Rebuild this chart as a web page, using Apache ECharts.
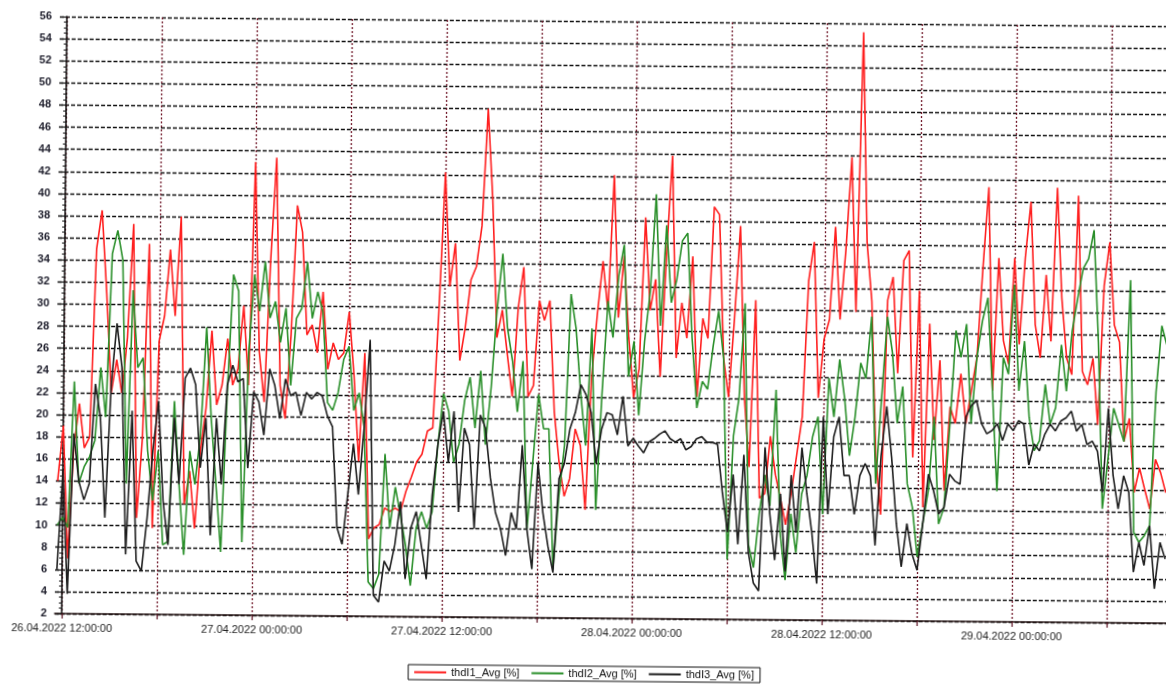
<!DOCTYPE html>
<html>
<head>
<meta charset="utf-8">
<script src="https://cdn.jsdelivr.net/npm/echarts@6/dist/echarts.min.js"></script>
<style>
  html, body { margin: 0; padding: 0; background: #ffffff; overflow: hidden; }
  #chart { width: 1180px; height: 684px; transform: rotate(0.5deg); transform-origin: 0 0; }
</style>
</head>
<body>
<div id="chart"></div>
<script>
// Time base: hours relative to 26.04.2022 12:00:00, one sample every 20 minutes
const sampleStartHour = -1 / 3;
const sampleStepHours = 1 / 3;

// Total harmonic distortion of current per phase, average values [%]
const thdI1 = [
  14, 19, 7, 17, 21, 17, 18, 35, 38.5, 31,
  22, 25, 22, 27, 37.3, 10.7, 18, 35.5, 9.8, 26.7,
  29, 35, 29, 38, 12, 15, 9.8, 16.8, 20.7, 27.7,
  21, 22.8, 27, 22.8, 24.3, 30, 22.8, 43, 25.8, 21.3,
  34, 43.4, 22.8, 19.8, 27.4, 39.1, 36.7, 27.4, 28.3, 25.8,
  31.3, 24.3,
  26.7, 25.2, 25.8, 29.5, 23.7, 16, 25.8, 9, 10, 10.3,
  11.8, 11.5, 11.8, 11.5, 13.3, 14.6, 16, 16.7, 18.8, 19.1,
  30, 42.2, 31.9, 35.8, 25.2, 28.2, 32.5, 33.7, 37.4, 48,
  39.8, 27.3, 29.8, 25.8, 22, 30, 33.7, 22, 23, 30.7,
  28.9, 30.7, 20.6, 16, 13, 14.6, 19.1, 17.6, 11.8, 23.7,
  29.5, 34.3, 29.8,
  42.1, 29.2, 34.8, 27.4, 22, 24.6, 38.3, 29.9, 32.7, 23.9,
  34.8, 43.9, 25.6, 30.6, 27.4, 34.8, 22.1, 29.2, 27.4, 39.3,
  38.6, 25.6, 22.1, 29.2, 37.6, 22.1, 15.8, 30.9, 13, 13.4,
  18.6, 15.1, 13, 10.6, 13.4, 16.9, 20.4, 32.7, 36.2, 22.1,
  27.4, 29.2, 37.6, 29.2, 35.5, 43.9, 29.9, 55.2, 36.2, 30.9,
  16.9, 11.6,
  31, 33.1, 24.4, 34.6, 35.5, 16.8, 31.9, 12.3, 28.9, 18.4,
  25.6, 13.8, 21.4, 19.9, 24.4, 19.9, 22.9, 25.9, 34, 41.3,
  22.9, 34.9, 27.4, 25.3, 34.9, 27.1, 34.9, 40, 28.9, 25.9,
  33.4, 27.4, 41.3, 31.3, 25.9, 24.4, 40.6, 24.7, 23.5, 25.9,
  19.9, 32.5, 36.4, 28.9, 27.4, 18.4, 20.5, 13.8, 16, 14.1,
  12.3, 16.8, 15.6, 13.8
];

const thdI2 = [
  10, 10.7, 9.8, 23, 13.8, 15.3, 16.2, 17.7, 24.3, 19.8,
  34.6, 36.7, 34, 13.8, 31.3, 24.3, 25.2, 16.8, 12.3, 16.8,
  8.3, 8.6, 21.3, 13.8, 7.4, 16.8, 13.8, 18.3, 28, 19.8,
  13.8, 7.7, 22.2, 32.8, 31.3, 8.6, 25.8, 32.8, 29.5, 34,
  28.9, 30.4, 26.7, 29.8, 22.8, 28.9, 29.8, 34, 28.9, 31.3,
  29.5, 21.3,
  20.6, 22.2, 25.2, 26.4, 20.6, 22.2, 19.1, 5.1, 4.5, 5.8,
  16.7, 10, 13.7, 11.2, 8.5, 4.8, 10, 11.5, 10, 11.5,
  17.6, 22.2, 20.6, 16, 17.6, 21.6, 23.7, 19.1, 24.3, 17.6,
  22.8, 29.8, 34.9, 28.2, 25.2, 20.6, 25.2, 10, 16, 22.2,
  19.1, 19.1, 6.4, 13, 17.6, 31.3, 28.2, 22.2, 17.6, 28.2,
  11.8, 22.2, 30.7,
  27.4, 33, 35.8, 23.9, 27.1, 20.4, 27.1, 31.6, 40.4, 28.5,
  37.6, 30.6, 32.7, 36.2, 36.9, 27.4, 21.1, 23.5, 22.8, 26.7,
  29.9, 25.6, 7.4, 18.6, 22.1, 30.6, 8.8, 6.7, 11.6, 15.1,
  12.3, 22.8, 9.9, 5.6, 11.6, 8.1, 13.4, 15.1, 18.6, 20.4,
  11.6, 23.9, 20.4, 25.6, 22.1, 16.9, 20.4, 25.3, 23.9, 29.5,
  14.4, 22.1,
  29.5, 26.2, 19.9, 23.2, 14.4, 12.3, 7.8, 10.8, 13.8, 20.5,
  10.8, 12.3, 19.9, 28.3, 25.9, 28.9, 19.9, 25.9, 29.2, 31.3,
  22.9, 13.8, 25.9, 24.4, 32.5, 22.9, 27.4, 20.5, 17.5, 18.4,
  23.5, 19.9, 21.4, 27.1, 22.9, 28.3, 31.3, 34, 34.9, 37.5,
  27.4, 12.3, 16.8, 21.4, 19.9, 18.4, 33, 10.2, 9.3, 9.9,
  10.8, 22.9, 28.9, 27.1
];

const thdI3 = [
  6, 15, 3.8, 18.3, 14, 12.3, 13.8, 22.8, 19.8, 10.7,
  22.8, 28.3, 24.3, 7.4, 20.4, 6.8, 5.9, 10.7, 16.8, 21.3,
  12.3, 8.3, 19.8, 13.8, 23.4, 24.3, 22.8, 15.3, 19.8, 9.2,
  19.8, 13.8, 22.8, 24.6, 23.1, 23.4, 15.3, 22.2, 21.3, 18.3,
  24.3, 22.8, 19.8, 23.4, 21.9, 22.2, 20.1, 22.2, 21.6, 22.2,
  21.9, 20.1,
  19.1, 10, 8.5, 13, 17.6, 13, 19.1, 27, 3.9, 3.3,
  7, 6.1, 8.5, 12.4, 5.4, 10, 11.5, 8.5, 5.4, 13,
  17.6, 20.6, 16, 20.6, 11.5, 19.1, 17.6, 10, 20.3, 19.1,
  14.6, 11.5, 10, 7.6, 11.5, 10, 17.6, 10, 6.4, 16,
  11.5, 8.5, 6.1, 14.6, 16, 19.1, 20.6, 23.1, 22.2, 20.6,
  16, 19.1, 20.6,
  20.4, 18.6, 22.1, 17.6, 18.3, 17.6, 17, 18, 18.3, 18.7,
  19, 18.3, 18, 18.3, 17.3, 17.6, 18.3, 18.5, 18, 18,
  17.8, 13.4, 9.9, 15.1, 8.8, 16.9, 8.1, 5.3, 4.6, 17.6,
  11.6, 7.4, 13.4, 6.4, 15.1, 9.9, 17.6, 13.4, 9.9, 5.3,
  20.4, 11.6, 18.6, 20.4, 15.1, 15.1, 11.6, 15.1, 16.2, 15.1,
  8.8, 16.9,
  21.4, 16.8, 10.8, 6.9, 10.8, 8.1, 6.6, 10.8, 15.3, 13.8,
  11.7, 12.3, 15.3, 14.7, 14.4, 20.5, 21.5, 22, 19.9, 19,
  19.3, 19.9, 18.4, 19.9, 19.3, 20.2, 19.9, 16.2, 18.1, 17.5,
  19, 19.9, 19.3, 20.2, 20.5, 21.1, 19.3, 19.9, 18.1, 18.4,
  17.5, 13.8, 21.4, 15.3, 12.3, 15.3, 13.8, 6.6, 9.3, 7.2,
  10.8, 5.1, 9.3, 7.8
];

const seriesNames = ['thdI1_Avg [%]', 'thdI2_Avg [%]', 'thdI3_Avg [%]'];

// Vertical grid every 6 hours, date labels every 12 hours
const gridHours = [0, 6, 12, 18, 24, 30, 36, 42, 48, 54, 60, 66];
const labelHours = [0, 12, 24, 36, 48, 60];
const labelTexts = [
  '26.04.2022 12:00:00',
  '27.04.2022 00:00:00',
  '27.04.2022 12:00:00',
  '28.04.2022 00:00:00',
  '28.04.2022 12:00:00',
  '29.04.2022 00:00:00'
];

function toPairs(values) {
  return values.map((v, i) => [sampleStartHour + i * sampleStepHours, v]);
}

const chart = echarts.init(document.getElementById('chart'), null, { renderer: 'canvas' });

const lineColors = ['#ff1f1f', '#2a8f2a', '#1e1e1e'];
const allValues = [thdI1, thdI2, thdI3];

chart.setOption({
  animation: false,
  backgroundColor: '#ffffff',
  textStyle: { fontFamily: 'Liberation Sans, Arial, sans-serif' },
  grid: { left: 60, right: 0, top: 16, bottom: 71, containLabel: false },
  legend: {
    data: seriesNames,
    left: 'center',
    top: 661,
    backgroundColor: '#ffffff',
    borderColor: '#111111',
    borderWidth: 1,
    padding: [2, 6, 2, 6],
    itemGap: 12,
    itemWidth: 32,
    itemHeight: 2,
    icon: 'rect',
    textStyle: { fontSize: 11, color: '#111111', fontFamily: 'Liberation Sans, Arial, sans-serif' }
  },
  xAxis: {
    type: 'value',
    min: -0.45,
    max: 70.3,
    axisLine: { show: true, onZero: false, lineStyle: { color: '#2a1a1a', width: 1.5 } },
    axisTick: {
      show: true,
      customValues: gridHours,
      length: 5,
      lineStyle: { color: '#5a1020', width: 1.2 }
    },
    axisLabel: {
      customValues: labelHours,
      margin: 9,
      fontSize: 11,
      color: '#222222',
      formatter: function (v) {
        const k = labelHours.indexOf(Math.round(v));
        return k >= 0 ? labelTexts[k] : '';
      }
    },
    splitLine: {
      show: true,
      lineStyle: { color: '#6e1426', width: 1.3, type: [2, 2] }
    }
  },
  yAxis: {
    type: 'value',
    min: 2,
    max: 56,
    interval: 2,
    axisLine: { show: true, lineStyle: { color: '#111111', width: 1.5 } },
    axisTick: { show: true, length: 5, lineStyle: { color: '#111111', width: 1.2 } },
    minorTick: { show: true, splitNumber: 4, length: 3, lineStyle: { color: '#111111', width: 1 } },
    axisLabel: { fontSize: 11, fontWeight: 'bold', color: '#1c1c2a', margin: 8 },
    splitLine: {
      show: true,
      lineStyle: { color: '#111111', width: 1.4, type: [4, 2] }
    }
  },
  series: seriesNames.map((name, k) => ({
    name: name,
    type: 'line',
    data: toPairs(allValues[k]),
    showSymbol: false,
    symbol: 'none',
    smooth: false,
    z: 3 + k,
    lineStyle: { color: lineColors[k], width: 1.6 },
    itemStyle: { color: lineColors[k] }
  }))
});
</script>
</body>
</html>
